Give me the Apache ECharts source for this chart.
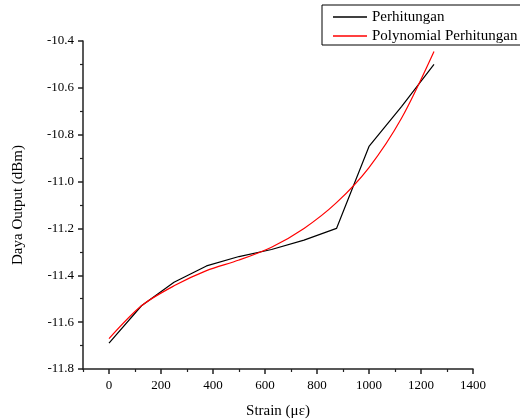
<!DOCTYPE html>
<html>
<head>
<meta charset="utf-8">
<script src="https://cdn.jsdelivr.net/npm/echarts@6/dist/echarts.min.js"></script>
<style>
  html, body { margin: 0; padding: 0; background: #fff; }
  #chart { width: 520px; height: 419px; }
</style>
</head>
<body>
<div id="chart"></div>
<script>
// Strain steps (με)
const strain = [0, 125, 250, 375, 500, 625, 750, 875, 1000, 1125, 1250];
// Measured output power (dBm)
const perhitungan = [-11.69, -11.53, -11.43, -11.36, -11.32, -11.29, -11.25, -11.20, -10.85, -10.68, -10.50];
// Polynomial fit of the output power (dBm)
const polynomial = [-11.67, -11.53, -11.445, -11.38, -11.335, -11.28, -11.20, -11.09, -10.94, -10.73, -10.445];
// Axis tick values
const xMajorTicks = [0, 200, 400, 600, 800, 1000, 1200, 1400];
const xMinorTicks = [-100, 100, 300, 500, 700, 900, 1100, 1300];

const font = '"Liberation Serif", "Times New Roman", serif';
const axisColor = '#222';
const lineIcon = 'path://M0,0L34,0L34,1.3L0,1.3Z';

const pairs = (xs, ys) => xs.map((x, i) => [x, ys[i]]);

const chart = echarts.init(document.getElementById('chart'));
chart.setOption({
  animation: false,
  backgroundColor: '#fff',
  textStyle: { fontFamily: font },
  grid: { left: 83, right: 47, top: 41, bottom: 50, containLabel: false, outerBoundsMode: 'none' },
  legend: {
    orient: 'vertical',
    left: 322,
    top: 5,
    padding: [4, 10, 1, 11],
    itemGap: 3,
    itemWidth: 34,
    itemHeight: 1.3,
    backgroundColor: '#fff',
    borderColor: '#000',
    borderWidth: 1,
    borderRadius: 0,
    textStyle: { fontFamily: font, fontSize: 15, lineHeight: 16, color: '#000' },
    data: [
      { name: 'Perhitungan', icon: lineIcon },
      { name: 'Polynomial Perhitungan', icon: lineIcon }
    ]
  },
  xAxis: [
    {
      type: 'value',
      min: -100,
      max: 1400,
      name: 'Strain (με)',
      nameLocation: 'middle',
      nameGap: 35,
      nameTextStyle: { fontFamily: font, fontSize: 15, color: '#000' },
      axisLine: { show: true, onZero: false, lineStyle: { color: axisColor, width: 1.5 } },
      axisTick: { show: true, customValues: xMajorTicks, length: 5, lineStyle: { color: axisColor, width: 1.5 } },
      axisLabel: {
        customValues: xMajorTicks, margin: 10, fontFamily: font, fontSize: 13, color: '#000',
        formatter: v => String(v)
      },
      splitLine: { show: false }
    },
    {
      type: 'value',
      min: -100,
      max: 1400,
      position: 'bottom',
      axisLine: { show: false, onZero: false },
      axisTick: { show: true, customValues: xMinorTicks, length: 3, lineStyle: { color: axisColor, width: 1.2 } },
      axisLabel: { show: false },
      splitLine: { show: false }
    }
  ],
  yAxis: {
    type: 'value',
    min: -11.8,
    max: -10.4,
    interval: 0.2,
    name: 'Daya Output (dBm)',
    nameLocation: 'middle',
    nameGap: 57,
    nameTextStyle: { fontFamily: font, fontSize: 15, color: '#000' },
    axisLine: { show: true, onZero: false, lineStyle: { color: axisColor, width: 1.5 } },
    axisTick: { show: true, length: 5, lineStyle: { color: axisColor, width: 1.5 } },
    minorTick: { show: true, splitNumber: 2, length: 3, lineStyle: { color: axisColor, width: 1.2 } },
    axisLabel: {
      margin: 9,
      fontFamily: font,
      fontSize: 13,
      color: '#000',
      formatter: v => v.toFixed(1)
    },
    splitLine: { show: false }
  },
  series: [
    {
      name: 'Perhitungan',
      type: 'line',
      data: pairs(strain, perhitungan),
      symbol: 'none',
      lineStyle: { color: '#000', width: 1.2 },
      itemStyle: { color: '#000' }
    },
    {
      name: 'Polynomial Perhitungan',
      type: 'line',
      data: pairs(strain, polynomial),
      smooth: 0.3,
      symbol: 'none',
      lineStyle: { color: '#ff0000', width: 1.2 },
      itemStyle: { color: '#ff0000' }
    }
  ]
});
</script>
</body>
</html>
